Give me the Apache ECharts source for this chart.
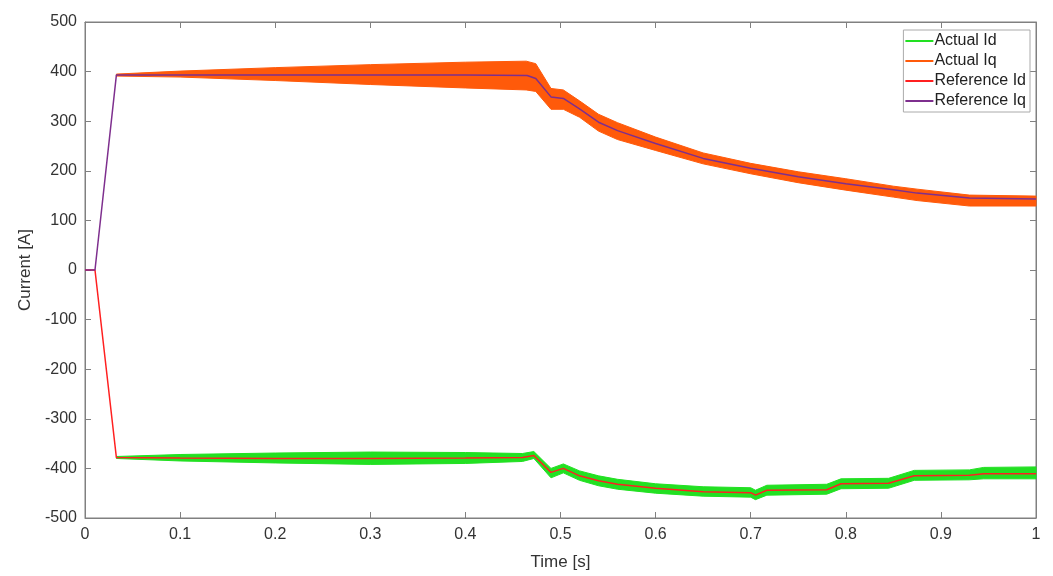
<!DOCTYPE html>
<html>
<head>
<meta charset="utf-8">
<script src="https://cdn.jsdelivr.net/npm/echarts@6/dist/echarts.min.js"></script>
<style>
html,body{margin:0;padding:0;background:#fff;}
#chart{width:1053px;height:576px;}
</style>
</head>
<body>
<div id="chart"></div>
<script>
// ---- data ----
const legendNames = ['Actual Id', 'Actual Iq', 'Reference Id', 'Reference Iq'];

const refIqT = [0, 0.0105, 0.033, 0.1, 0.2, 0.3, 0.4, 0.465, 0.474, 0.49, 0.503, 0.52, 0.54, 0.56, 0.6, 0.65, 0.7, 0.75, 0.8, 0.85, 0.875, 0.93, 1.0];
const refIq  = [0, 0, 393, 393, 393, 393, 393, 392, 386, 349, 346, 325, 298, 281, 255, 225, 205, 188, 174, 162, 155, 145, 143];

const iqBandT  = [0.033, 0.1, 0.2, 0.3, 0.4, 0.464, 0.474, 0.49, 0.503, 0.52, 0.54, 0.56, 0.6, 0.65, 0.7, 0.75, 0.8, 0.85, 0.875, 0.93, 1.0];
const iqUpper  = [395, 401, 408, 414, 419, 421, 416, 366, 363, 341, 314, 297, 268, 236, 215, 198, 184, 169, 163, 151, 149];
const iqLower  = [391, 389, 382, 374, 367, 363, 360, 324, 324, 308, 280, 263, 241, 214, 194, 176, 161, 147, 140, 129, 129];

const refIdT = [0, 0.0105, 0.033, 0.1, 0.2, 0.3, 0.4, 0.46, 0.472, 0.49, 0.503, 0.52, 0.54, 0.56, 0.6, 0.65, 0.7, 0.705, 0.717, 0.78, 0.795, 0.845, 0.872, 0.93, 0.945, 1.0];
const refId  = [0, 0, -378, -379, -380, -380, -379, -378, -374, -408, -400, -415, -425, -432, -440, -447, -449, -454, -444, -443, -431, -430, -415, -414, -411, -411];

const idBandT = [0.033, 0.1, 0.2, 0.3, 0.4, 0.46, 0.472, 0.49, 0.503, 0.52, 0.54, 0.56, 0.6, 0.65, 0.7, 0.705, 0.717, 0.78, 0.795, 0.845, 0.872, 0.93, 0.945, 1.0];
const idUpper = [-376, -372, -369, -367, -368, -370, -366, -400, -391, -405, -415, -422, -431, -437, -439, -444, -434, -432, -421, -420, -404, -403, -398, -397];
const idLower = [-380, -385, -389, -392, -390, -386, -380, -419, -409, -424, -435, -442, -450, -456, -458, -463, -454, -452, -441, -440, -424, -423, -421, -421];

const xTicks = {min: 0, max: 1, interval: 0.1};
const yTicks = {min: -500, max: 500, interval: 100};

// ---- colours ----
const cId = '#22e022', cIq = '#ff5a0a', cRefId = '#ff2020', cRefIq = '#7e2f8e';

const pairs = (t, v) => t.map((x, i) => [x, v[i]]);
const triples = (t, lo, up) => t.map((x, i) => [x, lo[i], up[i]]);

// band drawn as one polygon through the axes' coordinate system
function bandRenderer(color) {
  return function (params, api) {
    if (params.dataIndex !== 0) return null;
    const n = params.dataInsideLength;
    const top = [], bot = [];
    for (let i = 0; i < n; i++) {
      const t = api.value(0, i), lo = api.value(1, i), up = api.value(2, i);
      top.push(api.coord([t, up]));
      bot.push(api.coord([t, lo]));
    }
    return {
      type: 'polygon',
      shape: {points: top.concat(bot.reverse())},
      style: {fill: color, stroke: color, lineWidth: 1}
    };
  };
}

const axisColor = '#808080';
const font = 'Liberation Sans, Arial, sans-serif';
const labelStyle = {color: '#333', fontSize: 16, fontFamily: font};

const hiddenAxis = (extra) => Object.assign({
  type: 'value',
  axisLine: {show: true, onZero: false, lineStyle: {color: axisColor}},
  axisTick: {show: true, inside: true, length: 6, lineStyle: {color: axisColor}},
  axisLabel: {show: false}, splitLine: {show: false}
}, extra);

const chart = echarts.init(document.getElementById('chart'));
chart.setOption({
  animation: false,
  backgroundColor: '#fff',
  grid: {left: 85, right: 17, top: 22, bottom: 57, show: true, borderColor: axisColor, borderWidth: 1, backgroundColor: 'transparent'},
  legend: {
    data: legendNames.map(n => ({name: n, icon: 'rect'})),
    orient: 'vertical', right: 23, top: 30,
    itemWidth: 28, itemHeight: 2, itemGap: 4,
    padding: [3, 4, 3, 2],
    backgroundColor: '#fff', borderColor: '#aaa', borderWidth: 1, borderRadius: 0,
    textStyle: {color: '#222', fontSize: 16, fontFamily: font, padding: [0, 0, 0, -4]}
  },
  xAxis: [{
    type: 'value', min: xTicks.min, max: xTicks.max, interval: xTicks.interval,
    name: 'Time [s]', nameLocation: 'middle', nameGap: 36,
    nameTextStyle: {color: '#333', fontSize: 17, fontFamily: font},
    axisLine: {show: true, onZero: false, lineStyle: {color: axisColor}},
    axisTick: {show: true, inside: true, length: 6, lineStyle: {color: axisColor}},
    axisLabel: Object.assign({margin: 9}, labelStyle),
    splitLine: {show: false}
  }, hiddenAxis({position: 'top', min: xTicks.min, max: xTicks.max, interval: xTicks.interval})],
  yAxis: [{
    type: 'value', min: yTicks.min, max: yTicks.max, interval: yTicks.interval,
    name: 'Current [A]', nameLocation: 'middle', nameGap: 48,
    nameTextStyle: {color: '#333', fontSize: 17, fontFamily: font},
    axisLine: {show: true, onZero: false, lineStyle: {color: axisColor}},
    axisTick: {show: true, inside: true, length: 6, lineStyle: {color: axisColor}},
    axisLabel: Object.assign({margin: 8}, labelStyle),
    splitLine: {show: false}
  }, hiddenAxis({position: 'right', min: yTicks.min, max: yTicks.max, interval: yTicks.interval})],
  series: [
    {name: 'Actual Id', type: 'custom', renderItem: bandRenderer(cId),
     data: triples(idBandT, idLower, idUpper), encode: {x: 0, y: [1, 2]},
     itemStyle: {color: cId}, z: 2},
    {name: 'Actual Iq', type: 'custom', renderItem: bandRenderer(cIq),
     data: triples(iqBandT, iqLower, iqUpper), encode: {x: 0, y: [1, 2]},
     itemStyle: {color: cIq}, z: 3},
    {name: 'Reference Id', type: 'line', data: pairs(refIdT, refId),
     symbol: 'none', lineStyle: {width: 1.5, color: cRefId}, itemStyle: {color: cRefId}, z: 4},
    {name: 'Reference Iq', type: 'line', data: pairs(refIqT, refIq),
     symbol: 'none', lineStyle: {width: 1.5, color: cRefIq}, itemStyle: {color: cRefIq}, z: 5}
  ]
});
</script>
</body>
</html>
